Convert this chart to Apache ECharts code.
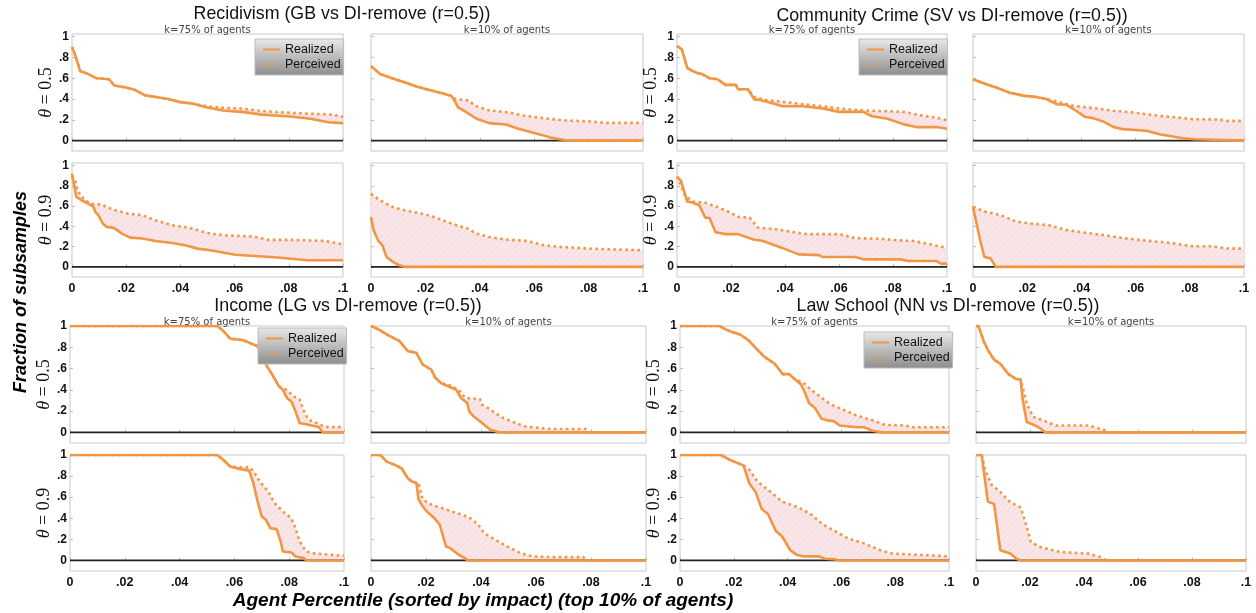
<!DOCTYPE html>
<html>
<head>
<meta charset="utf-8">
<script src="https://cdn.jsdelivr.net/npm/echarts@6/dist/echarts.min.js"></script>
<style>
  html, body { margin: 0; padding: 0; background: #fff; }
  #chart { width: 1256px; height: 613px; }
</style>
</head>
<body>
<div id="chart"></div>
<script>
// ---- axis ticks ----
const xTicks = [0, 0.02, 0.04, 0.06, 0.08, 0.1];
const xTickLabels = ['0', '.02', '.04', '.06', '.08', '.1'];
const yTicks = [0, 0.2, 0.4, 0.6, 0.8, 1];
const yTickLabels = ['0', '.2', '.4', '.6', '.8', '1'];
const zeroLine = [[0, 0], [0.1, 0]];

const thetaLabels = ['0.5', '0.9'];
const kLabels = ['k=75% of agents', 'k=10% of agents'];
const seriesNames = ['Realized', 'Perceived'];

// ---- Recidivism (GB vs DI-remove) : [agent percentile, fraction of subsamples] ----
const recidRealT5K75 = [[0,0.90],[0.0012,0.82],[0.003,0.67],[0.006,0.64],[0.009,0.60],[0.0137,0.59],[0.0156,0.53],[0.020,0.51],[0.023,0.49],[0.027,0.435],[0.031,0.42],[0.0355,0.40],[0.040,0.37],[0.0448,0.355],[0.0495,0.32],[0.0557,0.29],[0.0635,0.274],[0.070,0.25],[0.0806,0.232],[0.088,0.21],[0.0946,0.177],[0.1,0.168]];
const recidPercT5K75 = [[0,0.90],[0.0012,0.82],[0.003,0.67],[0.006,0.64],[0.009,0.60],[0.0137,0.59],[0.0156,0.53],[0.020,0.51],[0.023,0.49],[0.027,0.435],[0.031,0.42],[0.0355,0.40],[0.040,0.37],[0.0448,0.355],[0.05,0.33],[0.0557,0.316],[0.0635,0.306],[0.07,0.284],[0.076,0.274],[0.082,0.265],[0.088,0.258],[0.096,0.25],[0.1,0.226]];
const recidRealT5K10 = [[0,0.716],[0.0034,0.64],[0.008,0.597],[0.0126,0.558],[0.0173,0.516],[0.0219,0.484],[0.0265,0.452],[0.0296,0.43],[0.031,0.37],[0.032,0.32],[0.034,0.29],[0.0388,0.21],[0.0435,0.168],[0.0496,0.155],[0.0542,0.113],[0.0589,0.08],[0.0635,0.048],[0.0666,0.026],[0.071,0.006],[0.072,0],[0.1,0]];
const recidPercT5K10 = [[0,0.716],[0.0034,0.64],[0.008,0.597],[0.0126,0.558],[0.0173,0.516],[0.0219,0.484],[0.0265,0.452],[0.0296,0.43],[0.031,0.40],[0.0357,0.387],[0.0388,0.33],[0.0435,0.29],[0.0496,0.274],[0.0558,0.242],[0.062,0.22],[0.0712,0.194],[0.0804,0.184],[0.0866,0.17],[0.1,0.17]];
const recidRealT9K75 = [[0,0.918],[0.0009,0.787],[0.0016,0.69],[0.0036,0.656],[0.006,0.623],[0.0078,0.597],[0.0087,0.54],[0.0098,0.508],[0.0114,0.426],[0.0129,0.393],[0.0152,0.387],[0.0168,0.36],[0.0184,0.328],[0.0215,0.289],[0.026,0.28],[0.0308,0.256],[0.037,0.236],[0.0417,0.213],[0.0463,0.18],[0.051,0.164],[0.0603,0.12],[0.0759,0.092],[0.0868,0.066],[0.1,0.066]];
const recidPercT9K75 = [[0,0.90],[0.0012,0.85],[0.002,0.754],[0.0036,0.69],[0.0067,0.623],[0.0106,0.616],[0.0152,0.564],[0.0199,0.53],[0.026,0.508],[0.0308,0.46],[0.037,0.41],[0.0432,0.387],[0.048,0.35],[0.051,0.328],[0.0572,0.31],[0.0666,0.30],[0.0728,0.266],[0.082,0.266],[0.093,0.256],[0.1,0.223]];
const recidRealT9K10 = [[0,0.49],[0.001,0.36],[0.0026,0.26],[0.0042,0.213],[0.0057,0.098],[0.008,0.05],[0.0103,0.016],[0.0126,0],[0.1,0]];
const recidPercT9K10 = [[0,0.72],[0.0034,0.656],[0.008,0.59],[0.0126,0.557],[0.0188,0.525],[0.0234,0.49],[0.028,0.443],[0.0327,0.40],[0.0357,0.377],[0.0388,0.328],[0.0435,0.295],[0.0496,0.269],[0.0573,0.256],[0.0635,0.213],[0.0696,0.197],[0.0804,0.18],[0.0912,0.17],[0.1,0.164]];

// ---- Community Crime (SV vs DI-remove) ----
const crimeRealT5K75 = [[0,0.91],[0.0018,0.877],[0.0038,0.70],[0.0053,0.675],[0.0075,0.65],[0.009,0.643],[0.012,0.60],[0.015,0.59],[0.018,0.536],[0.0218,0.536],[0.0226,0.494],[0.0263,0.494],[0.0286,0.396],[0.0308,0.39],[0.0346,0.364],[0.039,0.33],[0.0466,0.33],[0.054,0.308],[0.06,0.276],[0.069,0.276],[0.0722,0.234],[0.078,0.21],[0.084,0.156],[0.0887,0.13],[0.096,0.13],[0.1,0.114]];
const crimePercT5K75 = [[0,0.91],[0.0018,0.877],[0.0038,0.70],[0.0053,0.675],[0.0075,0.65],[0.009,0.643],[0.012,0.60],[0.015,0.59],[0.018,0.536],[0.0218,0.536],[0.0226,0.494],[0.0263,0.494],[0.0286,0.42],[0.033,0.39],[0.039,0.373],[0.0466,0.35],[0.054,0.33],[0.06,0.308],[0.069,0.29],[0.084,0.276],[0.0902,0.243],[0.096,0.22],[0.1,0.195]];
const crimeRealT5K10 = [[0,0.59],[0.0049,0.542],[0.0086,0.51],[0.0135,0.461],[0.019,0.43],[0.0234,0.42],[0.027,0.40],[0.0308,0.35],[0.0344,0.345],[0.038,0.287],[0.0412,0.23],[0.0443,0.216],[0.048,0.184],[0.0517,0.132],[0.0553,0.11],[0.064,0.094],[0.0689,0.061],[0.0726,0.045],[0.0775,0.023],[0.0818,0.013],[0.0824,0],[0.1,0]];
const crimePercT5K10 = [[0,0.59],[0.0049,0.542],[0.0086,0.51],[0.0135,0.461],[0.019,0.43],[0.0234,0.42],[0.027,0.40],[0.0308,0.377],[0.0369,0.335],[0.0443,0.313],[0.0517,0.287],[0.059,0.271],[0.0664,0.245],[0.075,0.223],[0.0812,0.206],[0.091,0.203],[0.0935,0.19],[0.1,0.19]];
const crimeRealT9K75 = [[0,0.89],[0.0015,0.848],[0.0038,0.645],[0.006,0.632],[0.0083,0.606],[0.0105,0.484],[0.012,0.484],[0.0143,0.342],[0.018,0.323],[0.0226,0.323],[0.0286,0.268],[0.0316,0.258],[0.039,0.187],[0.045,0.123],[0.0526,0.116],[0.054,0.097],[0.066,0.097],[0.069,0.074],[0.0827,0.074],[0.0857,0.058],[0.096,0.058],[0.0977,0.032],[0.1,0.032]];
const crimePercT9K75 = [[0,0.89],[0.003,0.70],[0.006,0.645],[0.0105,0.632],[0.015,0.59],[0.0195,0.54],[0.0226,0.494],[0.027,0.484],[0.03,0.387],[0.036,0.374],[0.042,0.348],[0.048,0.323],[0.06,0.323],[0.066,0.284],[0.075,0.277],[0.084,0.258],[0.087,0.258],[0.093,0.226],[0.1,0.187]];
const crimeRealT9K10 = [[0,0.59],[0.0027,0.258],[0.0042,0.097],[0.0065,0.084],[0.0084,0],[0.1,0]];
const crimePercT9K10 = [[0,0.59],[0.0042,0.548],[0.0102,0.51],[0.0162,0.445],[0.0207,0.43],[0.0282,0.41],[0.0342,0.365],[0.0402,0.342],[0.0492,0.31],[0.0553,0.284],[0.0643,0.258],[0.0733,0.235],[0.0808,0.203],[0.0883,0.203],[0.0943,0.18],[0.1,0.18]];

// ---- Income (LG vs DI-remove) ----
const incomeRealT5K75 = [[0,1],[0.0538,1],[0.056,0.953],[0.0585,0.88],[0.063,0.868],[0.0654,0.843],[0.0685,0.81],[0.07,0.717],[0.0715,0.638],[0.0738,0.544],[0.0762,0.434],[0.0777,0.40],[0.0792,0.324],[0.0808,0.29],[0.0823,0.20],[0.0838,0.088],[0.087,0.072],[0.0908,0.05],[0.0923,0],[0.1,0]];
const incomePercT5K75 = [[0,1],[0.0538,1],[0.056,0.953],[0.0585,0.88],[0.063,0.868],[0.0654,0.843],[0.0685,0.81],[0.07,0.717],[0.0715,0.638],[0.0738,0.544],[0.0762,0.434],[0.077,0.42],[0.0792,0.40],[0.0815,0.34],[0.0838,0.31],[0.0854,0.20],[0.087,0.12],[0.09,0.088],[0.0931,0.05],[0.1,0.05]];
const incomeRealT5K10 = [[0,1],[0.0026,0.97],[0.0065,0.91],[0.0103,0.86],[0.0134,0.764],[0.0165,0.748],[0.0188,0.638],[0.0219,0.591],[0.0234,0.513],[0.0257,0.459],[0.028,0.434],[0.031,0.40],[0.0327,0.324],[0.035,0.277],[0.0357,0.198],[0.0373,0.151],[0.0404,0.088],[0.0434,0.025],[0.0465,0],[0.1,0]];
const incomePercT5K10 = [[0,1],[0.0026,0.97],[0.0065,0.91],[0.0103,0.86],[0.0134,0.764],[0.0165,0.748],[0.0188,0.638],[0.0219,0.591],[0.0234,0.513],[0.0257,0.459],[0.028,0.45],[0.0319,0.40],[0.0342,0.324],[0.0396,0.314],[0.0404,0.26],[0.0434,0.214],[0.048,0.135],[0.0527,0.088],[0.0558,0.057],[0.065,0.031],[0.0781,0.031],[0.079,0],[0.1,0]];
const incomeRealT9K75 = [[0,1],[0.0538,1],[0.056,0.953],[0.0585,0.89],[0.0623,0.866],[0.0654,0.852],[0.0669,0.735],[0.0685,0.558],[0.07,0.416],[0.0715,0.385],[0.0731,0.306],[0.0754,0.297],[0.0769,0.18],[0.0777,0.085],[0.0808,0.076],[0.0823,0.038],[0.0854,0.022],[0.0862,0],[0.1,0]];
const incomePercT9K75 = [[0,1],[0.0538,1],[0.056,0.953],[0.0585,0.89],[0.0623,0.883],[0.0654,0.883],[0.0669,0.852],[0.0692,0.75],[0.0723,0.656],[0.0746,0.546],[0.0777,0.464],[0.0808,0.40],[0.0823,0.306],[0.0838,0.18],[0.0862,0.085],[0.0885,0.07],[0.0946,0.054],[0.1,0.044]];
const incomeRealT9K10 = [[0,1],[0.0034,1],[0.0057,0.937],[0.0088,0.905],[0.0111,0.874],[0.0134,0.78],[0.0149,0.748],[0.0165,0.735],[0.0173,0.577],[0.0188,0.514],[0.0203,0.464],[0.0227,0.41],[0.025,0.34],[0.0257,0.33],[0.0273,0.132],[0.0288,0.117],[0.0319,0.054],[0.0342,0.022],[0.035,0],[0.1,0]];
const incomePercT9K10 = [[0,1],[0.0034,1],[0.0057,0.937],[0.0088,0.905],[0.0111,0.874],[0.0134,0.78],[0.0149,0.748],[0.0173,0.735],[0.0188,0.577],[0.0219,0.53],[0.0265,0.49],[0.0311,0.45],[0.0357,0.41],[0.0388,0.346],[0.0411,0.26],[0.045,0.20],[0.0496,0.132],[0.0542,0.07],[0.0589,0.038],[0.065,0.032],[0.0773,0.032],[0.078,0],[0.1,0]];

// ---- Law School (NN vs DI-remove) ----
const lawRealT5K75 = [[0,1],[0.0147,1],[0.017,0.968],[0.0192,0.945],[0.0223,0.92],[0.0253,0.87],[0.0283,0.79],[0.0314,0.71],[0.0352,0.645],[0.0382,0.548],[0.0405,0.548],[0.0427,0.5],[0.045,0.45],[0.0465,0.37],[0.048,0.274],[0.0503,0.226],[0.0526,0.129],[0.0548,0.113],[0.0571,0.106],[0.0594,0.065],[0.0655,0.048],[0.0685,0.048],[0.0715,0.016],[0.0753,0],[0.1,0]];
const lawPercT5K75 = [[0,1],[0.0147,1],[0.017,0.968],[0.0192,0.945],[0.0223,0.92],[0.0253,0.87],[0.0283,0.79],[0.0314,0.71],[0.0352,0.645],[0.0382,0.548],[0.0405,0.548],[0.0427,0.5],[0.0442,0.484],[0.0458,0.468],[0.0488,0.40],[0.0518,0.339],[0.0564,0.258],[0.0609,0.21],[0.0655,0.161],[0.0715,0.113],[0.0761,0.071],[0.0836,0.065],[0.0867,0.048],[0.1,0.048]];
const lawRealT5K10 = [[0,1],[0.0009,1],[0.0029,0.855],[0.0044,0.774],[0.0067,0.684],[0.009,0.645],[0.012,0.548],[0.015,0.5],[0.0165,0.5],[0.0173,0.306],[0.0188,0.097],[0.0219,0.065],[0.0241,0.032],[0.0256,0],[0.1,0]];
const lawPercT5K10 = [[0,1],[0.0009,1],[0.0029,0.855],[0.0044,0.774],[0.0067,0.684],[0.009,0.645],[0.012,0.548],[0.015,0.5],[0.0165,0.5],[0.017,0.452],[0.0188,0.274],[0.0211,0.145],[0.0249,0.113],[0.0294,0.065],[0.0416,0.065],[0.0461,0.032],[0.0484,0.016],[0.0492,0],[0.1,0]];
const lawRealT9K75 = [[0,1],[0.0152,1],[0.0182,0.958],[0.0213,0.925],[0.0236,0.90],[0.0258,0.73],[0.0281,0.65],[0.0304,0.487],[0.0327,0.44],[0.0357,0.276],[0.038,0.227],[0.041,0.097],[0.0433,0.055],[0.0456,0.039],[0.0517,0.039],[0.054,0.016],[0.0578,0.01],[0.059,0],[0.1,0]];
const lawPercT9K75 = [[0,1],[0.0152,1],[0.0182,0.958],[0.0213,0.925],[0.0236,0.90],[0.0258,0.86],[0.0289,0.746],[0.0334,0.656],[0.038,0.558],[0.044,0.503],[0.0486,0.44],[0.0532,0.34],[0.0578,0.276],[0.0623,0.211],[0.0684,0.162],[0.0745,0.097],[0.079,0.065],[0.0927,0.049],[0.1,0.039]];
const lawRealT9K10 = [[0,1],[0.0021,1],[0.0044,0.558],[0.0067,0.536],[0.009,0.097],[0.0127,0.065],[0.015,0.016],[0.0165,0],[0.1,0]];
const lawPercT9K10 = [[0,1],[0.0021,1],[0.0036,0.844],[0.0059,0.714],[0.009,0.65],[0.0127,0.552],[0.0165,0.503],[0.018,0.39],[0.0203,0.179],[0.0234,0.13],[0.031,0.081],[0.0416,0.065],[0.0461,0.032],[0.0484,0],[0.1,0]];

// ---- figure blocks: one 2x2 block of panels per dataset ----
const blocks = [
  { title: 'Recidivism (GB vs DI-remove (r=0.5))', titleX: 342, titleY: 14, kY: 30.5,
    lefts: [72, 371], widths: [271, 272], tops: [34, 163], heights: [117, 114], yMax: 1.025,
    legendPos: [255, 39],
    panels: [[recidRealT5K75, recidPercT5K75], [recidRealT5K10, recidPercT5K10],
             [recidRealT9K75, recidPercT9K75], [recidRealT9K10, recidPercT9K10]] },
  { title: 'Community Crime (SV vs DI-remove (r=0.5))', titleX: 952, titleY: 16, kY: 30.5,
    lefts: [677, 973], widths: [270, 271], tops: [34, 163], heights: [117, 114], yMax: 1.025,
    legendPos: [859, 39],
    panels: [[crimeRealT5K75, crimePercT5K75], [crimeRealT5K10, crimePercT5K10],
             [crimeRealT9K75, crimePercT9K75], [crimeRealT9K10, crimePercT9K10]] },
  { title: 'Income (LG vs DI-remove (r=0.5))', titleX: 348, titleY: 306, kY: 322.5,
    lefts: [70, 371], widths: [274, 275], tops: [326, 455], heights: [117, 116], yMax: 1.0,
    legendPos: [258, 328],
    panels: [[incomeRealT5K75, incomePercT5K75], [incomeRealT5K10, incomePercT5K10],
             [incomeRealT9K75, incomePercT9K75], [incomeRealT9K10, incomePercT9K10]] },
  { title: 'Law School (NN vs DI-remove (r=0.5))', titleX: 948, titleY: 306, kY: 322.5,
    lefts: [680, 976], widths: [269, 270], tops: [326, 455], heights: [117, 116], yMax: 1.0,
    legendPos: [864, 332],
    panels: [[lawRealT5K75, lawPercT5K75], [lawRealT5K10, lawPercT5K10],
             [lawRealT9K75, lawPercT9K75], [lawRealT9K10, lawPercT9K10]] }
];

const ORANGE = '#f19642';
const SANS = '"Liberation Sans", Arial, sans-serif';

// light pink hatch used between the perceived and realized curves
function makeHatch() {
  const c = document.createElement('canvas');
  c.width = 6; c.height = 6;
  const g = c.getContext('2d');
  g.fillStyle = '#f9e6e9';
  g.fillRect(0, 0, 6, 6);
  g.strokeStyle = '#f4d6db';
  g.lineWidth = 1;
  g.beginPath();
  g.moveTo(-1, 7); g.lineTo(7, -1);
  g.moveTo(-1, 1); g.lineTo(1, -1);
  g.moveTo(5, 7); g.lineTo(7, 5);
  g.stroke();
  return c;
}
const hatch = makeHatch();

function fillBetween(real, perc) {
  return function (params, api) {
    const pts = perc.map(p => api.coord(p))
      .concat(real.slice().reverse().map(p => api.coord(p)));
    return { type: 'polygon', shape: { points: pts },
             style: { fill: { image: hatch, repeat: 'repeat' }, stroke: null } };
  };
}

const grids = [], xAxes = [], yAxes = [], series = [], graphics = [], legends = [];

blocks.forEach(b => {
  graphics.push({ type: 'text', x: b.titleX, y: b.titleY, z: 10,
    style: { text: b.title, font: '17.8px ' + SANS, fill: '#111',
             align: 'center', verticalAlign: 'middle', textAlign: 'center', textVerticalAlign: 'middle' } });
  for (let c = 0; c < 2; c++) {
    graphics.push({ type: 'text', x: b.lefts[c] + b.widths[c] / 2, y: b.kY, z: 10,
      style: { text: kLabels[c], font: '10px "DejaVu Sans", sans-serif', fill: '#444',
               align: 'center', verticalAlign: 'middle', textAlign: 'center', textVerticalAlign: 'middle' } });
  }
  legends.push({
    left: b.legendPos[0], top: b.legendPos[1], orient: 'vertical',
    data: seriesNames, selectedMode: false,
    itemWidth: 17, itemHeight: 12, itemGap: 2,
    padding: [4, 3, 4, 7],
    itemStyle: { opacity: 0, borderWidth: 0 },
    backgroundColor: new echarts.graphic.LinearGradient(0, 0, 0, 1, [
      { offset: 0, color: '#e9e9e9' }, { offset: 1, color: '#8d8d8d' }]),
    borderColor: '#bbb', borderWidth: 1,
    textStyle: { fontFamily: SANS, fontSize: 12.5, color: '#111' },
    z: 20
  });

  b.panels.forEach((pd, i) => {
    const row = Math.floor(i / 2), col = i % 2;
    const idx = grids.length;
    grids.push({ left: b.lefts[col], top: b.tops[row], width: b.widths[col], height: b.heights[row],
                 show: true, borderColor: '#c9c9c9', borderWidth: 1, backgroundColor: '#fff' });
    xAxes.push({
      gridIndex: idx, type: 'value', min: 0, max: 0.1, interval: 0.02,
      axisLine: { show: false }, splitLine: { show: false },
      axisTick: { show: true, inside: true, length: 3, lineStyle: { color: '#bbb' } },
      axisLabel: { show: row === 1, margin: 5, fontFamily: SANS, fontWeight: 'bold', fontSize: 12.5, color: '#111',
                   formatter: v => xTickLabels[Math.round(v / 0.02)] }
    });
    yAxes.push({
      gridIndex: idx, type: 'value', min: -0.1, max: b.yMax,
      axisLine: { show: false }, splitLine: { show: false },
      axisTick: { show: true, inside: true, length: 3, lineStyle: { color: '#bbb' }, customValues: yTicks },
      axisLabel: { show: col === 0, margin: 3, fontFamily: SANS, fontWeight: 'bold', fontSize: 12, color: '#111',
                   customValues: yTicks, formatter: v => yTickLabels[Math.round(v / 0.2)] },
      name: col === 0 ? '{i|θ} = ' + thetaLabels[row] : '',
      nameLocation: 'middle', nameGap: 16, nameRotate: 90,
      nameTextStyle: { fontFamily: '"Liberation Serif", "DejaVu Serif", serif', fontSize: 18, color: '#111',
                       rich: { i: { fontFamily: '"Liberation Serif", serif', fontStyle: 'italic', fontSize: 18, color: '#111' } } }
    });
    const real = pd[0], perc = pd[1];
    series.push({ type: 'custom', xAxisIndex: idx, yAxisIndex: idx, silent: true, z: 1,
                  renderItem: fillBetween(real, perc), data: [[0, 0]] });
    series.push({ type: 'line', name: 'zero', xAxisIndex: idx, yAxisIndex: idx, silent: true, z: 2,
                  data: zeroLine, symbol: 'none', lineStyle: { color: '#222', width: 1.8 } });
    series.push({ type: 'line', name: 'Perceived', xAxisIndex: idx, yAxisIndex: idx, silent: true, z: 3,
                  data: perc, symbol: 'none', showSymbol: false, color: ORANGE,
                  lineStyle: { color: ORANGE, width: 2.6, type: [2.6, 3.4], cap: 'butt' } });
    series.push({ type: 'line', name: 'Realized', xAxisIndex: idx, yAxisIndex: idx, silent: true, z: 4,
                  data: real, symbol: 'none', showSymbol: false, color: ORANGE,
                  lineStyle: { color: ORANGE, width: 2.6 } });
  });
});

graphics.push({ type: 'text', x: 21, y: 292, rotation: Math.PI / 2, z: 10,
  style: { text: 'Fraction of subsamples', font: 'italic bold 18px ' + SANS, fill: '#000',
           align: 'center', verticalAlign: 'middle', textAlign: 'center', textVerticalAlign: 'middle' } });
graphics.push({ type: 'text', x: 483, y: 601, z: 10,
  style: { text: 'Agent Percentile (sorted by impact) (top 10% of agents)', font: 'italic bold 19px ' + SANS, fill: '#000',
           align: 'center', verticalAlign: 'middle', textAlign: 'center', textVerticalAlign: 'middle' } });

const chart = echarts.init(document.getElementById('chart'), null, { renderer: 'canvas' });
chart.setOption({
  animation: false,
  backgroundColor: '#fff',
  grid: grids, xAxis: xAxes, yAxis: yAxes,
  legend: legends,
  series: series,
  graphic: graphics
});
</script>
</body>
</html>
